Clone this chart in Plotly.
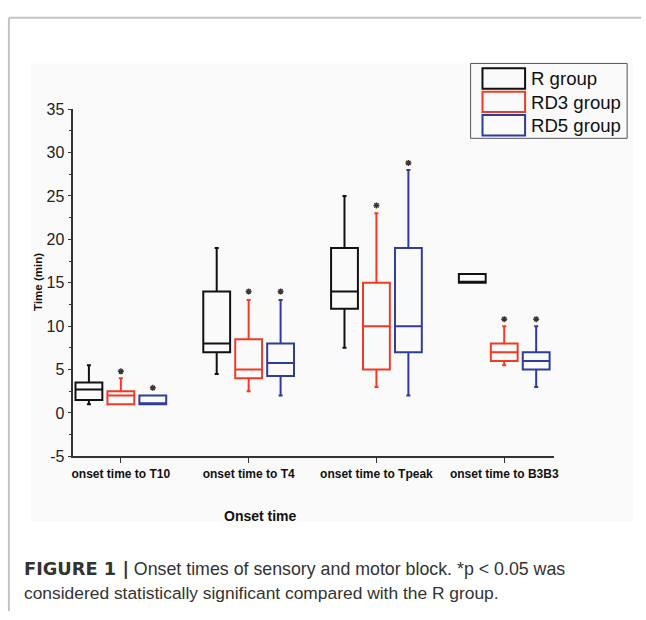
import plotly.graph_objects as go

# ---- data ----
categories = ["onset time to T10", "onset time to T4", "onset time to Tpeak", "onset time to B3B3"]
groups = ["R group", "RD3 group", "RD5 group"]

r_low = [1.0, 4.5, 7.5, 15.0]
r_q1 = [1.5, 7.0, 12.0, 15.0]
r_med = [2.7, 8.0, 14.0, 15.0]
r_q3 = [3.5, 14.0, 19.0, 16.0]
r_high = [5.5, 19.0, 25.0, 16.0]

rd3_low = [1.0, 2.5, 3.0, 5.5]
rd3_q1 = [1.0, 4.0, 5.0, 6.0]
rd3_med = [2.0, 5.0, 10.0, 7.0]
rd3_q3 = [2.5, 8.5, 15.0, 8.0]
rd3_high = [4.0, 13.0, 23.0, 10.0]

rd5_low = [1.0, 2.0, 2.0, 3.0]
rd5_q1 = [1.0, 4.25, 7.0, 5.0]
rd5_med = [1.0, 5.75, 10.0, 6.0]
rd5_q3 = [2.0, 8.0, 19.0, 7.0]
rd5_high = [2.0, 13.0, 28.0, 10.0]

rd3_star = [4.8, 14.0, 23.9, 10.8]
rd5_star = [2.9, 14.0, 28.8, 10.8]

y_ticks = [-5, 0, 5, 10, 15, 20, 25, 30, 35]
y_tick_labels = ["-5", "0", "5", "10", "15", "20", "25", "30", "35"]

# ---- styling ----
W, H = 646, 620
FONT = "Liberation Sans, Arial"
colors = ["#111111", "#f23b25", "#2f3c9c"]
offsets = [-0.25, 0.0, 0.25]
box_w = 0.21

series = [
    (r_low, r_q1, r_med, r_q3, r_high),
    (rd3_low, rd3_q1, rd3_med, rd3_q3, rd3_high),
    (rd5_low, rd5_q1, rd5_med, rd5_q3, rd5_high),
]

fig = go.Figure()
for gi, (lo, q1, md, q3, hi) in enumerate(series):
    xs = [i + offsets[gi] for i in range(len(categories))]
    fig.add_trace(go.Box(
        name=groups[gi], x=xs, q1=q1, median=md, q3=q3,
        lowerfence=lo, upperfence=hi, width=box_w,
        line=dict(color=colors[gi], width=2),
        fillcolor="rgba(0,0,0,0)", whiskerwidth=0.15,
        boxpoints=False, showlegend=False, hoverinfo="skip",
    ))

for gi, stars in [(1, rd3_star), (2, rd5_star)]:
    xs = [i + offsets[gi] for i in range(len(categories))]
    fig.add_trace(go.Scatter(
        x=xs, y=stars, mode="markers", showlegend=False, hoverinfo="skip",
        marker=dict(symbol="asterisk", size=5, color="#3d3535",
                    line=dict(color="#3d3535", width=1.4)),
    ))

def px(x):
    return x / W

def py(y):
    return 1 - y / H

shapes = [
    # outer frame
    dict(type="line", xref="paper", yref="paper", x0=px(8), x1=1.0, y0=py(10), y1=py(10),
         line=dict(color="#c4c4c4", width=2), layer="below"),
    dict(type="line", xref="paper", yref="paper", x0=px(8), x1=px(8), y0=py(10), y1=0,
         line=dict(color="#c4c4c4", width=2), layer="below"),
    # chart panel
    dict(type="rect", xref="paper", yref="paper", x0=px(30), x1=px(638), y0=py(528), y1=py(57),
         fillcolor="#fafafa", line=dict(width=0), layer="below"),
    # legend border
    dict(type="rect", xref="paper", yref="paper", x0=px(474), x1=px(632), y0=py(134), y1=py(57),
         fillcolor="rgba(0,0,0,0)", line=dict(color="#555555", width=1)),
]
annotations = []
sw_top = [62, 86, 110]
for gi in range(3):
    shapes.append(dict(type="rect", xref="paper", yref="paper", x0=px(486), x1=px(529),
                       y0=py(sw_top[gi] + 21), y1=py(sw_top[gi]),
                       fillcolor="rgba(0,0,0,0)", line=dict(color=colors[gi], width=2)))
    annotations.append(dict(xref="paper", yref="paper", x=px(533), y=py(sw_top[gi] + 11),
                            xanchor="left", yanchor="middle", showarrow=False,
                            text=groups[gi], font=dict(size=18.6, color="#111111", family=FONT)))

annotations += [
    dict(xref="paper", yref="paper", x=px(262), y=py(522), xanchor="center", yanchor="middle",
         showarrow=False, text="<b>Onset time</b>",
         font=dict(size=14, color="#111111", family=FONT)),
    dict(xref="paper", yref="paper", x=px(38), y=py(282), xanchor="center", yanchor="middle",
         showarrow=False, text="<b>Time (min)</b>", textangle=-90,
         font=dict(size=11.5, color="#111111", family=FONT)),
    dict(xref="paper", yref="paper", x=px(21), y=py(576), xanchor="left", yanchor="middle",
         showarrow=False, align="left",
         text="<span style=\"font-family:'DejaVu Sans'\"><b>FIGURE 1 |</b></span> "
              "Onset times of sensory and motor block. *p &lt; 0.05 was",
         font=dict(size=17.8, color="#333333", family=FONT)),
    dict(xref="paper", yref="paper", x=px(21), y=py(601), xanchor="left", yanchor="middle",
         showarrow=False, align="left",
         text="considered statistically significant compared with the R group.",
         font=dict(size=17.4, color="#333333", family=FONT)),
]

fig.update_layout(
    width=W, height=H, margin=dict(l=0, r=0, t=0, b=0),
    paper_bgcolor="white", plot_bgcolor="rgba(0,0,0,0)",
    showlegend=False, shapes=shapes, annotations=annotations,
    font=dict(family=FONT, color="#111111"),
    xaxis=dict(
        domain=[px(73), px(558)], range=[-0.372, 3.388],
        tickvals=list(range(len(categories))),
        ticktext=["<b>%s</b>" % c for c in categories],
        tickfont=dict(size=12, color="#111111"),
        ticks="outside", ticklen=5, tickwidth=1.3, tickcolor="#333333",
        showline=True, linecolor="#333333", linewidth=1.5,
        showgrid=False, zeroline=False,
    ),
    yaxis=dict(
        domain=[py(461), py(104)], range=[-5, 35],
        tickvals=y_ticks, ticktext=y_tick_labels,
        tickfont=dict(size=16, color="#222222"),
        ticks="outside", ticklen=4, tickwidth=1.3, tickcolor="#333333",
        minor=dict(dtick=2.5, tick0=0, ticks="outside", ticklen=3, tickcolor="#333333", tickwidth=1),
        showline=True, linecolor="#333333", linewidth=1.5,
        showgrid=False, zeroline=False,
    ),
)

post = (
    "document.documentElement.style.margin='0';"
    "document.documentElement.style.overflow='hidden';"
    "document.body.style.margin='0';document.body.style.padding='0';"
    "document.body.style.overflow='hidden';"
)

fig.write_html("out.html", config={"displayModeBar": False}, post_script=post)
